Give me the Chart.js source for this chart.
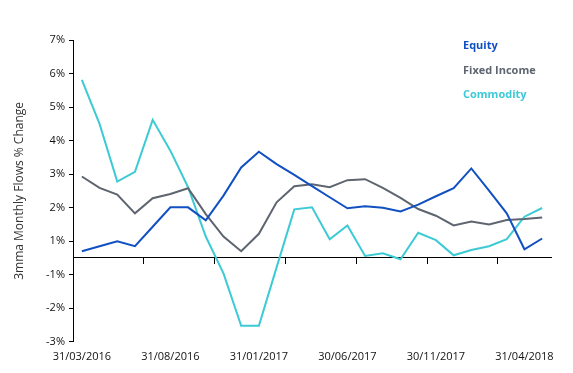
<!DOCTYPE html>
<html>
<head>
<meta charset="utf-8">
<script src="https://cdn.jsdelivr.net/npm/chart.js@4"></script>
<style>
  html, body { margin: 0; padding: 0; background: #fff; }
  #wrap { width: 573px; height: 373px; }
</style>
</head>
<body>
<div id="wrap"><canvas id="flowsChart"></canvas></div>
<script>
// --- DATA ---
const months = [
  "31/03/2016", "30/04/2016", "31/05/2016", "30/06/2016", "31/07/2016",
  "31/08/2016", "30/09/2016", "31/10/2016", "30/11/2016", "31/12/2016",
  "31/01/2017", "28/02/2017", "31/03/2017", "30/04/2017", "31/05/2017",
  "30/06/2017", "31/07/2017", "31/08/2017", "30/09/2017", "31/10/2017",
  "30/11/2017", "31/12/2017", "31/01/2018", "28/02/2018", "31/03/2018",
  "31/04/2018", "31/05/2018"
];

const equity = [
  0.20, 0.35, 0.50, 0.35, 0.93, 1.51, 1.51, 1.12, 1.86, 2.70,
  3.17, 2.80, 2.48, 2.14, 1.81, 1.48, 1.54, 1.50, 1.39, 1.59,
  1.84, 2.08, 2.67, 2.01, 1.33, 0.26, 0.58
];

const fixedIncome = [
  2.43, 2.09, 1.89, 1.33, 1.78, 1.91, 2.08, 1.31, 0.64, 0.20,
  0.72, 1.66, 2.14, 2.20, 2.11, 2.32, 2.35, 2.09, 1.79, 1.46,
  1.26, 0.97, 1.09, 1.00, 1.13, 1.16, 1.21
];

const commodity = [
  5.31, 4.00, 2.28, 2.57, 4.12, 3.20, 2.11, 0.64, -0.46, -2.02,
  -2.02, -0.28, 1.45, 1.51, 0.56, 0.97, 0.06, 0.14, -0.04, 0.75,
  0.53, 0.08, 0.24, 0.35, 0.56, 1.23, 1.49
];

// axis runs -2.5 .. 6.5, labels rounded half away from zero (as the source does)
const Y_MIN = -2.5;
const Y_MAX = 6.5;
const LABEL_EVERY = 5;
const TICKMARK_EVERY = 4;

const COLORS = {
  equity: "#1150c2",
  fixed: "#5e6570",
  commodity: "#3ccad4"
};

const FONT = "'Open Sans', 'Liberation Sans', sans-serif";

// text-only legend in the top right corner of the plot
const textLegend = {
  id: "textLegend",
  afterDraw(chart) {
    const { ctx, chartArea } = chart;
    ctx.save();
    ctx.font = "bold 11px " + FONT;
    ctx.textBaseline = "middle";
    ctx.textAlign = "left";
    chart.data.datasets.forEach((ds, i) => {
      ctx.fillStyle = ds.borderColor;
      ctx.fillText(ds.label, chartArea.right - 88, chartArea.top + 6 + i * 24.5);
    });
    ctx.restore();
  }
};

const fmtPct = v => {
  const r = Math.sign(v) * Math.round(Math.abs(v));
  return r + "%";
};

new Chart(document.getElementById("flowsChart"), {
  type: "line",
  data: {
    labels: months,
    datasets: [
      { label: "Equity", data: equity, borderColor: COLORS.equity },
      { label: "Fixed Income", data: fixedIncome, borderColor: COLORS.fixed },
      { label: "Commodity", data: commodity, borderColor: COLORS.commodity }
    ]
  },
  options: {
    responsive: true,
    maintainAspectRatio: false,
    animation: false,
    layout: { padding: { top: 40, right: 22, left: 12, bottom: 2 } },
    elements: {
      line: { tension: 0, borderWidth: 2, fill: false },
      point: { radius: 0 }
    },
    plugins: {
      legend: { display: false },
      tooltip: { enabled: false }
    },
    scales: {
      x: {
        type: "category",
        position: "bottom",
        offset: true,
        grid: { display: false, drawTicks: false },
        border: { display: false },
        ticks: {
          autoSkip: false,
          maxRotation: 0,
          padding: 8,
          color: "#111",
          font: { family: FONT, size: 11 },
          callback: function (val, index) {
            return index % LABEL_EVERY === 0 ? this.getLabelForValue(val) : "";
          }
        }
      },
      xZero: {
        type: "category",
        axis: "x",
        position: { y: 0 },
        offset: true,
        grid: {
          offset: true,
          drawOnChartArea: false,
          drawTicks: true,
          tickLength: 6,
          tickColor: ctx => (ctx.index % TICKMARK_EVERY === 0 ? "#000" : "rgba(0,0,0,0)")
        },
        border: { display: true, color: "#000", width: 1 },
        ticks: { display: false }
      },
      y: {
        min: Y_MIN,
        max: Y_MAX,
        ticks: {
          stepSize: 1,
          padding: 4,
          color: "#111",
          font: { family: FONT, size: 11 },
          callback: v => fmtPct(v)
        },
        grid: { drawOnChartArea: false, tickLength: 4, tickColor: "#000" },
        border: { display: true, color: "#000", width: 1 },
        title: {
          display: true,
          text: "3mma Monthly Flows % Change",
          color: "#333",
          font: { family: FONT, size: 12 },
          padding: { top: 0, bottom: 8 }
        },
        afterFit: s => { s.width = 61; }
      }
    }
  },
  plugins: [textLegend]
});
</script>
</body>
</html>
